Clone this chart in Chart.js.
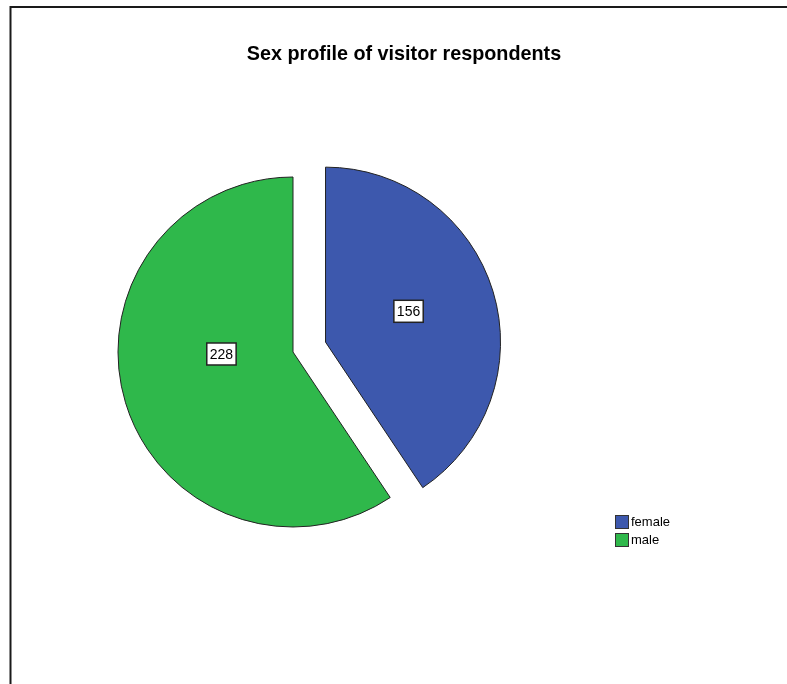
<!DOCTYPE html>
<html>
<head>
<meta charset="utf-8">
<script src="https://cdn.jsdelivr.net/npm/chart.js@4"></script>
<style>
  html, body { margin: 0; padding: 0; background: #fff; }
  #wrap { width: 787px; height: 684px; position: relative; }
</style>
</head>
<body>
<div id="wrap"><canvas id="c" width="787" height="684"></canvas></div>
<script>
// Respondent counts by sex
const categories = ['female', 'male'];
const counts = [156, 228];
const sliceColors = ['#3d58ad', '#2fb84b'];
const chartTitle = 'Sex profile of visitor respondents';

// Pulls selected slices out along their mid-angle without resizing them
const explodePlugin = {
  id: 'explode',
  beforeDatasetDraw(chart, args, opts) {
    const ctx = chart.ctx;
    args.meta.data.forEach((arc, i) => {
      const d = (opts.distances || [])[i] || 0;
      const mid = (arc.startAngle + arc.endAngle) / 2;
      ctx.save();
      ctx.translate(Math.cos(mid) * d, Math.sin(mid) * d);
      arc.draw(ctx, chart.chartArea);
      ctx.restore();
    });
    return false;
  }
};

// Boxed count labels inside each slice
const valueBoxPlugin = {
  id: 'valueBoxes',
  afterDatasetsDraw(chart, args, opts) {
    const ctx = chart.ctx;
    const meta = chart.getDatasetMeta(0);
    const values = chart.data.datasets[0].data;
    const dist = chart.options.plugins.explode.distances || [];
    ctx.save();
    ctx.font = opts.font;
    ctx.textAlign = 'center';
    ctx.textBaseline = 'middle';
    meta.data.forEach((arc, i) => {
      const mid = (arc.startAngle + arc.endAngle) / 2;
      const d = dist[i] || 0;
      const cx = arc.x + Math.cos(mid) * d;
      const cy = arc.y + Math.sin(mid) * d;
      const p = opts.anchors[i];
      const a = arc.startAngle + (arc.endAngle - arc.startAngle) * p.angle;
      const r = arc.outerRadius * p.radius;
      const x = cx + Math.cos(a) * r;
      const y = cy + Math.sin(a) * r;
      const txt = String(values[i]);
      const w = ctx.measureText(txt).width + 6;
      const h = 22;
      ctx.fillStyle = '#ffffff';
      ctx.fillRect(x - w / 2, y - h / 2, w, h);
      ctx.lineWidth = 1.5;
      ctx.strokeStyle = '#222222';
      ctx.strokeRect(x - w / 2, y - h / 2, w, h);
      ctx.fillStyle = '#000000';
      ctx.fillText(txt, x, y + 1);
    });
    ctx.restore();
  }
};

// Title, frame and legend
const decorPlugin = {
  id: 'decor',
  afterDraw(chart, args, opts) {
    const ctx = chart.ctx;
    ctx.save();
    // frame
    ctx.strokeStyle = '#1a1a1a';
    ctx.lineWidth = 2;
    ctx.beginPath();
    ctx.moveTo(10.5, chart.height + 2);
    ctx.lineTo(10.5, 7);
    ctx.lineTo(chart.width + 2, 7);
    ctx.stroke();
    // title
    ctx.fillStyle = '#000000';
    ctx.font = 'bold 19.8px "Liberation Sans", Arial, sans-serif';
    ctx.textAlign = 'center';
    ctx.textBaseline = 'middle';
    ctx.fillText(chartTitle, 404, 55);
    // legend
    const ds = chart.data.datasets[0];
    ctx.font = '13px "Liberation Sans", Arial, sans-serif';
    ctx.textAlign = 'left';
    chart.data.labels.forEach((lab, i) => {
      const y = 522 + i * 18;
      ctx.fillStyle = ds.backgroundColor[i];
      ctx.fillRect(615.5, y - 6.5, 13, 13);
      ctx.lineWidth = 1;
      ctx.strokeStyle = '#333333';
      ctx.strokeRect(615.5, y - 6.5, 13, 13);
      ctx.fillStyle = '#000000';
      ctx.fillText(lab, 631, y + 0.5);
    });
    ctx.restore();
  }
};

new Chart(document.getElementById('c'), {
  type: 'pie',
  data: {
    labels: categories,
    datasets: [{
      data: counts,
      backgroundColor: sliceColors,
      borderColor: '#222222',
      borderWidth: 1
    }]
  },
  options: {
    responsive: false,
    animation: false,
    radius: 175,
    layout: { padding: { left: 0, right: 201, top: 20, bottom: 0 } },
    plugins: {
      legend: { display: false },
      title: { display: false },
      tooltip: { enabled: false },
      explode: { distances: [34, 0] },
      valueBoxes: {
        font: '14px "Liberation Sans", Arial, sans-serif',
        anchors: [
          { angle: 0.476, radius: 0.506 },
          { angle: 0.5715, radius: 0.409 }
        ]
      }
    }
  },
  plugins: [explodePlugin, valueBoxPlugin, decorPlugin]
});
</script>
</body>
</html>
